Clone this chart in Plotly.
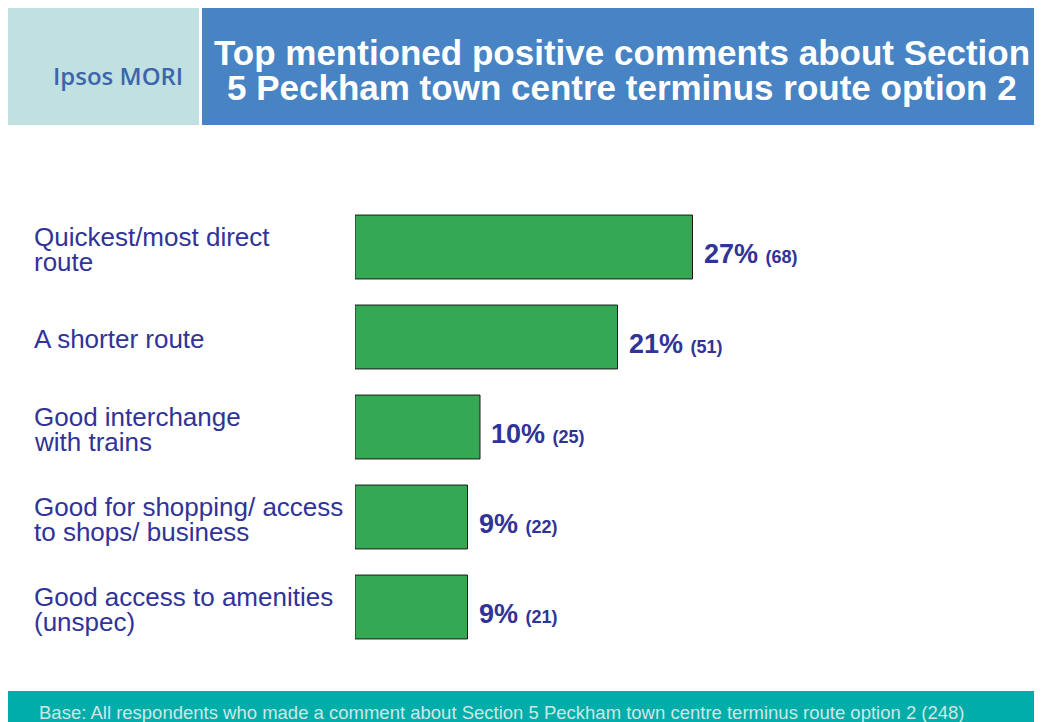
import plotly.graph_objects as go

categories = [
    "Quickest/most direct<br>route",
    "A shorter route",
    "Good interchange<br>with trains",
    "Good for shopping/ access<br>to shops/ business",
    "Good access to amenities<br>(unspec)",
]
percent = [27, 21, 10, 9, 9]
counts = [68, 51, 25, 22, 21]

title_text = "Top mentioned positive comments about Section<br>5 Peckham town centre terminus route option 2"
logo_text = "Ipsos MORI"
base_text = "Base: All respondents who made a comment about Section 5 Peckham town centre terminus route option 2 (248)"

# page offset (body margin) so that positions below are in screen pixels
OFF = 8
W, H = 1042, 722
L, R, T, B = 355, 1000, 202, 652  # screen pixels of the plot area
XMAX = (R - L) / 12.5

def px(xs):
    return (xs - L) / (R - L)

def py(ys):
    return (B - ys) / (B - T)

LABEL_COLOR = "#303397"
FONT = "Liberation Sans, Arial, sans-serif"

ypos = list(range(len(categories)))

fig = go.Figure()
fig.add_trace(go.Bar(
    x=percent, y=ypos, orientation="h",
    marker=dict(color="#35A853", line=dict(color="#1a1a1a", width=1)),
    width=0.71, hoverinfo="skip",
))

annotations = []
LINE_H = 25
for i, (c, p, n) in enumerate(zip(categories, percent, counts)):
    lines = c.split("<br>")
    k = len(lines)
    for j, line in enumerate(lines):
        annotations.append(dict(
            x=px(32), xref="paper", y=i, yref="y", text=line, showarrow=False,
            xanchor="left", yanchor="middle", align="left",
            yshift=((k - 1) / 2 - j) * LINE_H - 2,
            font=dict(family=FONT, size=26, color=LABEL_COLOR),
        ))
    annotations.append(dict(
        x=p, xref="x", y=i, yref="y",
        text=f"<b>{p}%</b> <b><span style='font-size:18px'>({n})</span></b>",
        showarrow=False, xanchor="left", yanchor="middle", xshift=9, yshift=-7,
        font=dict(family=FONT, size=27, color=LABEL_COLOR),
    ))

for j, line in enumerate(title_text.split("<br>")):
    annotations.append(dict(
        x=px(622), xref="paper", y=py(52 + 36 * j), yref="paper", text=f"<b>{line}</b>",
        showarrow=False, xanchor="center", yanchor="middle", align="center",
        font=dict(family=FONT, size=35, color="white"),
    ))
annotations.append(dict(
    x=px(118), xref="paper", y=py(75), yref="paper", text=logo_text,
    showarrow=False, xanchor="center", yanchor="middle",
    font=dict(family="Open Sans, sans-serif", size=24, color="#3D65AC", weight=600),
))
annotations.append(dict(
    x=px(37), xref="paper", y=py(712), yref="paper", text=base_text,
    showarrow=False, xanchor="left", yanchor="middle",
    font=dict(family=FONT, size=18.5, color="#CDE8E6"),
))

shapes = [
    dict(type="rect", xref="paper", yref="paper", x0=px(8), x1=px(199), y0=py(125), y1=py(8),
         fillcolor="#C0E0E2", line=dict(width=0), layer="below"),
    dict(type="rect", xref="paper", yref="paper", x0=px(202), x1=px(1050), y0=py(125), y1=py(8),
         fillcolor="#4883C4", line=dict(width=0), layer="below"),
    dict(type="rect", xref="paper", yref="paper", x0=px(8), x1=px(1050), y0=py(730), y1=py(691),
         fillcolor="#00ADA9", line=dict(width=0), layer="below"),
]

fig.update_layout(
    width=W, height=H,
    margin=dict(l=L - OFF, r=W - R + OFF, t=T - OFF, b=H - B + OFF, pad=0),
    paper_bgcolor="white", plot_bgcolor="white",
    showlegend=False,
    xaxis=dict(range=[0, XMAX], visible=False, fixedrange=True),
    yaxis=dict(range=[len(categories) - 0.5, -0.5], visible=False, fixedrange=True),
    annotations=annotations, shapes=shapes,
)

fig.write_html("out.html", include_plotlyjs=True, config={"displayModeBar": False})
